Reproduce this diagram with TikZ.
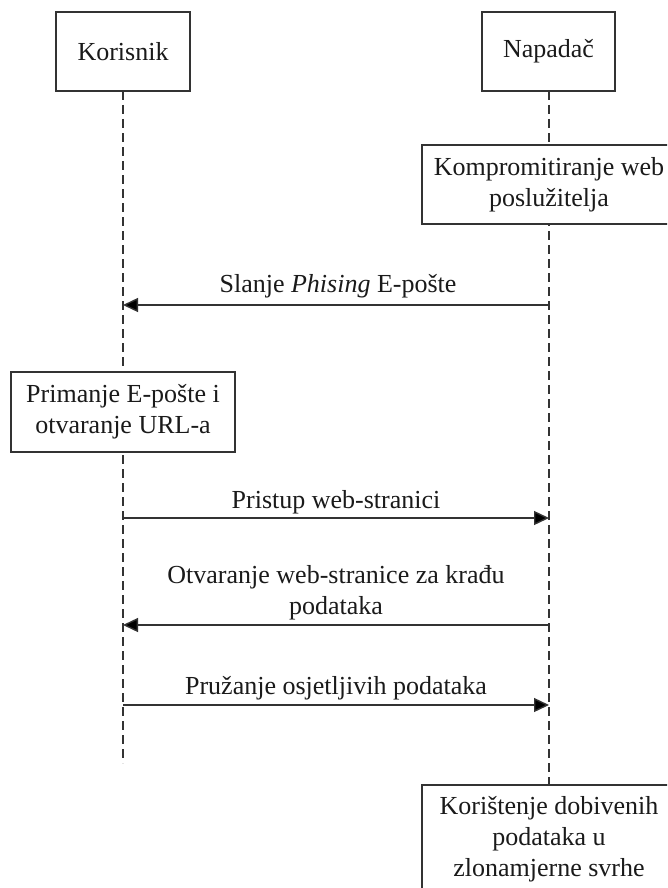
\documentclass[tikz,border=0pt]{standalone}
\usepackage{fontspec}
\setmainfont{Liberation Serif}
\usetikzlibrary{arrows.meta}
\definecolor{linec}{HTML}{333333}
\definecolor{textc}{HTML}{1A1A1A}
\tikzset{
  actorbox/.style={draw=linec, line width=1.4pt, fill=white, align=center, inner sep=0pt,
    text=textc, font=\fontsize{26}{31}\selectfont},
  lifeline/.style={draw=linec, line width=1.2pt, dash pattern=on 9pt off 5pt},
  msg/.style={draw=linec, line width=1.4pt, -{Triangle[length=15pt,width=14pt,fill=black]}},
  msglabel/.style={anchor=base, align=center, inner sep=0pt, text=textc,
    font=\fontsize{26}{31}\selectfont}
}
\begin{document}
\begin{tikzpicture}[x=1pt,y=-1pt]
\useasboundingbox (0,0) rectangle (667,888);
\clip (0,0) rectangle (667,888);
\fill[white] (0,0) rectangle (667,888);

% lifelines (coordinates)
\coordinate (kTop) at (123,91);
\coordinate (kEnd) at (123,763);
\coordinate (nTop) at (549,91);
\coordinate (nEnd) at (549,785);
\draw[lifeline] (kTop) -- (kEnd);
\draw[lifeline] (nTop) -- (nEnd);

% actor boxes
\node[actorbox, minimum width=134pt, minimum height=79pt] (kor) at (123,51.5) {Korisnik};
\node[actorbox, minimum width=133pt, minimum height=79pt] (nap) at (548.5,51.5) {Napadač};

% activity boxes
\node[actorbox, minimum width=254pt, minimum height=79pt] (komp) at (549,184.5)
  {Kompromitiranje web\\poslužitelja};
\node[actorbox, minimum width=224pt, minimum height=80pt] (prim) at (123,412)
  {Primanje E-pošte i\\otvaranje URL-a};
\node[actorbox, minimum width=254pt, minimum height=108pt] (kori) at (549,839)
  {Korištenje dobivenih\\podataka u\\zlonamjerne svrhe};

% message end points on the lifelines
\coordinate (m1n) at (549,305);
\coordinate (m1k) at (123,305);
\coordinate (m2k) at (123,518);
\coordinate (m2n) at (549,518);
\coordinate (m3n) at (549,625);
\coordinate (m3k) at (123,625);
\coordinate (m4k) at (123,705);
\coordinate (m4n) at (549,705);

\draw[msg] (m1n) -- (m1k);
\draw[msg] (m2k) -- (m2n);
\draw[msg] (m3n) -- (m3k);
\draw[msg] (m4k) -- (m4n);

% message labels
\node[msglabel] (l1) at (338,292) {Slanje \textit{Phising} E-pošte};
\node[msglabel] (l2) at (336,508) {Pristup web-stranici};
\node[msglabel] (l3) at (336,614.5) {Otvaranje web-stranice za krađu\\podataka};
\node[msglabel] (l4) at (336,694.5) {Pružanje osjetljivih podataka};
\end{tikzpicture}
\end{document}
